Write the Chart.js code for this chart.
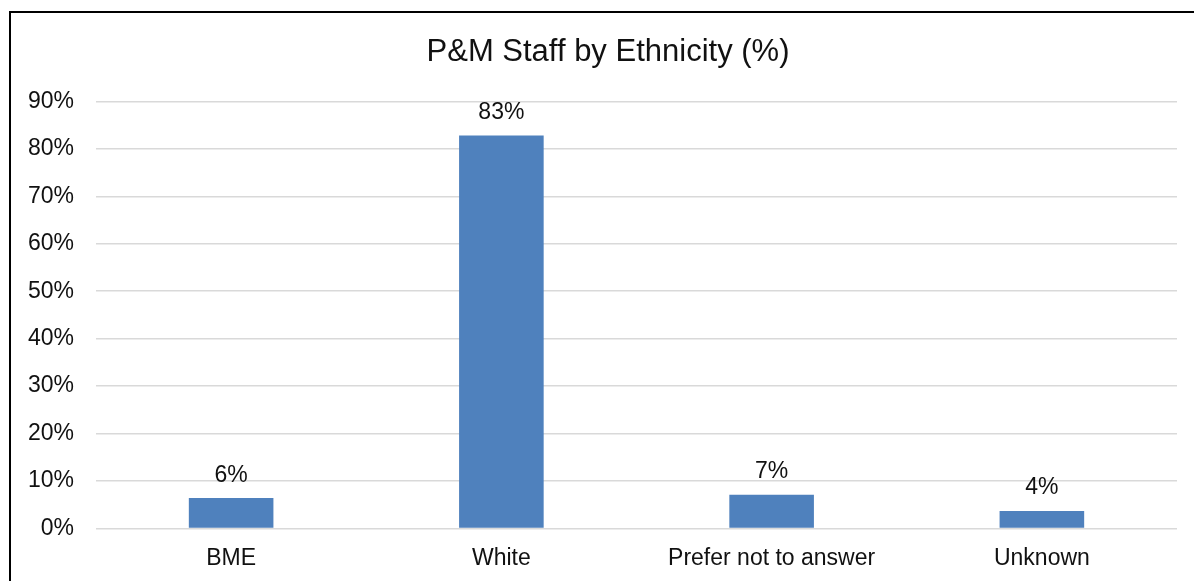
<!DOCTYPE html>
<html>
<head>
<meta charset="utf-8">
<script src="https://cdn.jsdelivr.net/npm/chart.js@4/dist/chart.umd.min.js"></script>
<style>
  html, body { margin: 0; padding: 0; background: #fff; overflow: hidden; }
  #frame {
    position: absolute; left: 9px; top: 11px; width: 2000px; height: 2000px;
    border-left: 2px solid #000; border-top: 2px solid #000;
  }
  #chart { position: absolute; left: 0; top: 0; }
</style>
</head>
<body>
<div id="frame"></div>
<canvas id="chart" width="1194" height="581"></canvas>
<script>
// data
const categories = ["BME", "White", "Prefer not to answer", "Unknown"];
const values = [6.4, 82.8, 7.1, 3.7];
const valueLabels = ["6%", "83%", "7%", "4%"];
const yTicks = [0, 10, 20, 30, 40, 50, 60, 70, 80, 90];
const chartTitle = "P&M Staff by Ethnicity (%)";

const FONT = "'Liberation Sans', Arial, sans-serif";
const TEXT = "#111";

// value labels above the bars + title (centred over the whole frame, like the original)
const extraText = {
  id: "extraText",
  afterDatasetsDraw(chart) {
    const ctx = chart.ctx;
    const meta = chart.getDatasetMeta(0);
    ctx.save();
    ctx.fillStyle = TEXT;
    ctx.textAlign = "center";
    ctx.textBaseline = "alphabetic";
    ctx.font = "23px " + FONT;
    meta.data.forEach((bar, i) => {
      ctx.fillText(valueLabels[i], bar.x, bar.y - 16.5);
    });
    ctx.font = "31px " + FONT;
    ctx.fillText(chartTitle, 608, 60.5);
    ctx.restore();
  }
};

new Chart(document.getElementById("chart"), {
  type: "bar",
  data: {
    labels: categories,
    datasets: [{
      data: values,
      backgroundColor: "#4F81BD",
      borderWidth: 0,
      categoryPercentage: 1,
      barPercentage: 0.313
    }]
  },
  options: {
    responsive: false,
    animation: false,
    layout: { padding: { left: 0, right: 17, top: 101.3, bottom: 0 } },
    plugins: {
      legend: { display: false },
      tooltip: { enabled: false },
      title: { display: false }
    },
    scales: {
      x: {
        grid: { display: false, drawTicks: false },
        border: { display: false },
        ticks: {
          color: TEXT,
          font: { family: FONT, size: 23 },
          padding: 16,
          maxRotation: 0,
          autoSkip: false
        },
        afterFit: s => { s.height = 52.5; }
      },
      y: {
        min: 0,
        max: 90,
        afterBuildTicks: s => { s.ticks = yTicks.map(v => ({ value: v })); },
        grid: { color: "#D9D9D9", lineWidth: 1.4, drawTicks: false },
        border: { display: false },
        ticks: {
          color: TEXT,
          font: { family: FONT, size: 23 },
          padding: 22,
          callback: v => v + "%"
        },
        afterFit: s => { s.width = 96; }
      }
    }
  },
  plugins: [extraText]
});
</script>
</body>
</html>
